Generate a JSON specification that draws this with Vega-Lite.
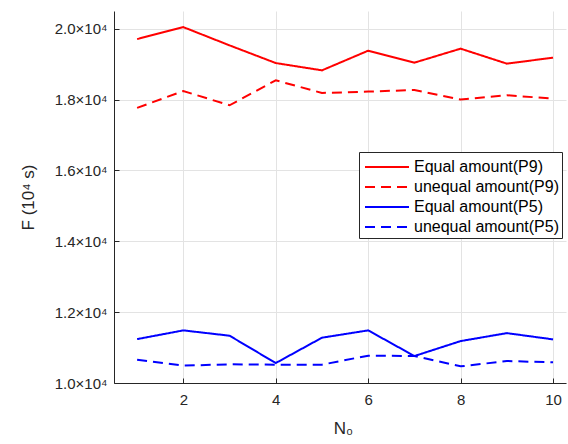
{
  "$schema": "https://vega.github.io/schema/vega-lite/v6.json",
  "width": 452,
  "height": 372,
  "autosize": {"type": "none"},
  "padding": {"left": 114, "top": 11, "right": 2, "bottom": 61},
  "background": "white",
  "config": {
    "font": "Liberation Sans",
    "view": {"stroke": null},
    "axis": {
      "domainColor": "#262626",
      "tickColor": "#262626",
      "labelColor": "#262626",
      "titleColor": "#262626",
      "gridColor": "#e3e3e3",
      "labelFontSize": 15,
      "titleFontSize": 17,
      "titleFontWeight": "normal",
      "tickSize": -5
    }
  },
  "data": {
    "values": [
      {"n": 1, "s": "Equal amount(P9)", "v": 19707},
      {"n": 2, "s": "Equal amount(P9)", "v": 20045},
      {"n": 3, "s": "Equal amount(P9)", "v": 19530},
      {"n": 4, "s": "Equal amount(P9)", "v": 19031},
      {"n": 5, "s": "Equal amount(P9)", "v": 18825},
      {"n": 6, "s": "Equal amount(P9)", "v": 19380},
      {"n": 7, "s": "Equal amount(P9)", "v": 19042},
      {"n": 8, "s": "Equal amount(P9)", "v": 19437},
      {"n": 9, "s": "Equal amount(P9)", "v": 19014},
      {"n": 10, "s": "Equal amount(P9)", "v": 19183},
      {"n": 1, "s": "unequal amount(P9)", "v": 17764},
      {"n": 2, "s": "unequal amount(P9)", "v": 18242},
      {"n": 3, "s": "unequal amount(P9)", "v": 17839},
      {"n": 4, "s": "unequal amount(P9)", "v": 18544},
      {"n": 5, "s": "unequal amount(P9)", "v": 18186},
      {"n": 6, "s": "unequal amount(P9)", "v": 18225},
      {"n": 7, "s": "unequal amount(P9)", "v": 18270},
      {"n": 8, "s": "unequal amount(P9)", "v": 18000},
      {"n": 9, "s": "unequal amount(P9)", "v": 18121},
      {"n": 10, "s": "unequal amount(P9)", "v": 18028},
      {"n": 1, "s": "Equal amount(P5)", "v": 11239},
      {"n": 2, "s": "Equal amount(P5)", "v": 11485},
      {"n": 3, "s": "Equal amount(P5)", "v": 11335},
      {"n": 4, "s": "Equal amount(P5)", "v": 10563},
      {"n": 5, "s": "Equal amount(P5)", "v": 11279},
      {"n": 6, "s": "Equal amount(P5)", "v": 11485},
      {"n": 7, "s": "Equal amount(P5)", "v": 10761},
      {"n": 8, "s": "Equal amount(P5)", "v": 11183},
      {"n": 9, "s": "Equal amount(P5)", "v": 11408},
      {"n": 10, "s": "Equal amount(P5)", "v": 11231},
      {"n": 1, "s": "unequal amount(P5)", "v": 10659},
      {"n": 2, "s": "unequal amount(P5)", "v": 10490},
      {"n": 3, "s": "unequal amount(P5)", "v": 10527},
      {"n": 4, "s": "unequal amount(P5)", "v": 10518},
      {"n": 5, "s": "unequal amount(P5)", "v": 10518},
      {"n": 6, "s": "unequal amount(P5)", "v": 10772},
      {"n": 7, "s": "unequal amount(P5)", "v": 10761},
      {"n": 8, "s": "unequal amount(P5)", "v": 10470},
      {"n": 9, "s": "unequal amount(P5)", "v": 10620},
      {"n": 10, "s": "unequal amount(P5)", "v": 10583}
    ]
  },
  "mark": {"type": "line", "strokeWidth": 2, "clip": true},
  "encoding": {
    "x": {
      "field": "n",
      "type": "quantitative",
      "scale": {"domain": [0.5, 10.28], "nice": false, "zero": false},
      "axis": {
        "values": [2, 4, 6, 8, 10],
        "title": "N₀",
        "titleX": 229,
        "titleY": 45,
        "titleBaseline": "middle",
        "labelPadding": 14
      }
    },
    "y": {
      "field": "v",
      "type": "quantitative",
      "scale": {"domain": [10000, 20500], "nice": false, "zero": false},
      "axis": {
        "values": [10000, 12000, 14000, 16000, 18000, 20000],
        "labelExpr": "format(datum.value/10000, '.1f') + '×10⁴'",
        "title": "F (10⁴ s)",
        "titleX": -86,
        "titleY": 186,
        "titleAngle": -90,
        "titleAlign": "center",
        "titleBaseline": "middle",
        "labelPadding": 12
      }
    },
    "color": {
      "field": "s",
      "type": "nominal",
      "scale": {
        "domain": ["Equal amount(P9)", "unequal amount(P9)", "Equal amount(P5)", "unequal amount(P5)"],
        "range": ["#ff0000", "#ff0000", "#0000ff", "#0000ff"]
      },
      "legend": {
        "title": null,
        "orient": "none",
        "legendX": 245,
        "legendY": 141,
        "fillColor": "white",
        "strokeColor": "#262626",
        "padding": 3,
        "symbolType": "M-2,0H2",
        "symbolSize": 484,
        "symbolOffset": 13,
        "symbolStrokeWidth": 2,
        "labelFontSize": 16,
        "labelColor": "#000000",
        "labelOffset": 15,
        "rowPadding": 0
      }
    },
    "strokeDash": {
      "field": "s",
      "type": "nominal",
      "scale": {
        "domain": ["Equal amount(P9)", "unequal amount(P9)", "Equal amount(P5)", "unequal amount(P5)"],
        "range": [[1, 0], [10, 6], [1, 0], [10, 6]]
      }
    }
  }
}
